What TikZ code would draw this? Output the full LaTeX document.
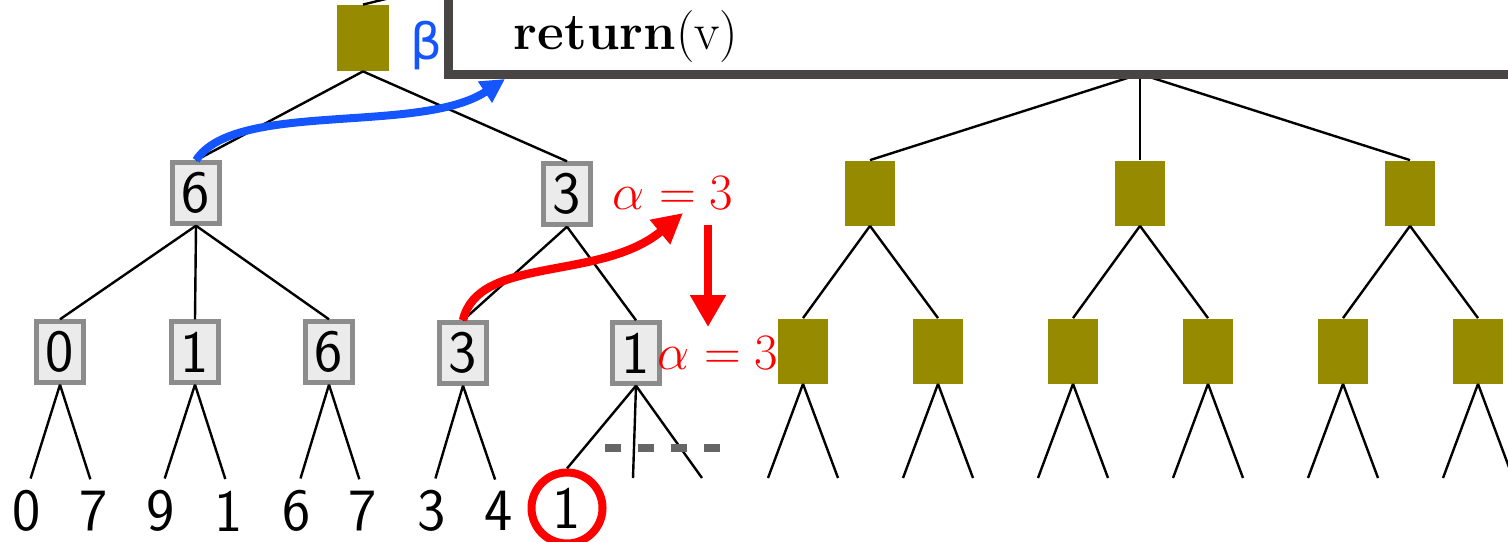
\RequirePackage{fix-cm}
\documentclass[tikz,border=0pt]{standalone}
\usepackage{fontspec}
\newfontfamily\betafont{DejaVu Sans}
\usepackage{tikz}
\usetikzlibrary{arrows.meta}

\definecolor{olivebox}{RGB}{150,138,0}
\definecolor{retgray}{RGB}{74,69,69}
\definecolor{alphared}{RGB}{255,0,0}
\definecolor{betablue}{RGB}{20,85,255}

\begin{document}
\begin{tikzpicture}[
    x=0.5pt, y=-0.5pt,
    edge/.style={line width=1.2pt},
    valbox/.style={draw=black!45, fill=black!8, line width=2.2pt, minimum width=23.5pt, minimum height=30.5pt, inner sep=0pt, font=\fontsize{30}{36}\sffamily},
    hidbox/.style={fill=olivebox, minimum width=25pt, minimum height=32.5pt, inner sep=0pt},
    leaf/.style={inner sep=0pt, font=\fontsize{30}{36}\sffamily},
    toleaf/.style={edge, shorten >=6pt},
    alphalbl/.style={text=alphared, inner sep=0pt, font=\fontsize{25.5}{30}\selectfont},
    redarrow/.style={draw=alphared, line width=4.2pt, -{Triangle[length=15pt, width=15pt]}},
    bluearrow/.style={draw=betablue, line width=4pt, -{Triangle[length=12pt, width=12pt]}}
]
\useasboundingbox (0,0) rectangle (1508,541);
\clip (0,0) rectangle (1508,541);

% left tree
\node[hidbox, minimum width=26pt, minimum height=33pt] (root) at (363,38) {};
\coordinate (rootup) at (430,-12);
\node[valbox] (six) at (196,193) {6};
\node[valbox] (three) at (567,194) {3};
\node[valbox] (z0) at (60,352) {0};
\node[valbox] (o1) at (195,352) {1};
\node[valbox] (s6) at (329,352) {6};
\node[valbox] (t3) at (463,353) {3};
\node[valbox] (o1b) at (636,353) {1};

\node[leaf] (a0) at (27,511) {0};
\node[leaf] (a1) at (94,511) {7};
\node[leaf] (a2) at (161,511) {9};
\node[leaf] (a3) at (229,511) {1};
\node[leaf] (a4) at (297,511) {6};
\node[leaf] (a5) at (363,511) {7};
\node[leaf] (a6) at (432,511) {3};
\node[leaf] (a7) at (499,511) {4};
\node[leaf, circle, draw=alphared, line width=4pt, minimum size=35.5pt] (a8) at (567,508) {1};
\coordinate (m1) at (633,478);
\coordinate (m2) at (702,478);

\draw[edge] (root.north) -- (rootup);
\draw[edge] (root.south) -- (six.north);
\draw[edge] (root.south) -- (three.north);
\draw[edge] (six.south) -- (z0.north);
\draw[edge] (six.south) -- (o1.north);
\draw[edge] (six.south) -- (s6.north);
\draw[edge] (three.south) -- (t3.north);
\draw[edge] (three.south) -- (o1b.north);
\draw[toleaf] (z0.south) -- (a0.north);
\draw[toleaf] (z0.south) -- (a1.north);
\draw[toleaf] (o1.south) -- (a2.north);
\draw[toleaf] (o1.south) -- (a3.north);
\draw[toleaf] (s6.south) -- (a4.north);
\draw[toleaf] (s6.south) -- (a5.north);
\draw[toleaf] (t3.south) -- (a6.north);
\draw[toleaf] (t3.south) -- (a7.north);
\draw[edge] (o1b.south) -- (a8.north);
\draw[edge] (o1b.south) -- (m1);
\draw[edge] (o1b.south) -- (m2);
\draw[draw=black!60, line width=4pt, dash pattern=on 8pt off 8.5pt] (605,448) -- (722,448);

% right tree
\coordinate (apex) at (1140,74);
\node[hidbox] (h1) at (870,193) {};
\node[hidbox] (h2) at (1140,193) {};
\node[hidbox] (h3) at (1410,193) {};
\node[hidbox] (g1) at (803,351) {};
\node[hidbox] (g2) at (938,351) {};
\node[hidbox] (g3) at (1073,351) {};
\node[hidbox] (g4) at (1208,351) {};
\node[hidbox] (g5) at (1343,351) {};
\node[hidbox] (g6) at (1478,351) {};
\coordinate (g1l) at (768,478); \coordinate (g1r) at (838,478);
\coordinate (g2l) at (903,478); \coordinate (g2r) at (973,478);
\coordinate (g3l) at (1038,478); \coordinate (g3r) at (1108,478);
\coordinate (g4l) at (1173,478); \coordinate (g4r) at (1243,478);
\coordinate (g5l) at (1308,478); \coordinate (g5r) at (1378,478);
\coordinate (g6l) at (1443,478); \coordinate (g6r) at (1513,478);

\draw[edge] (apex) -- (h1.north);
\draw[edge] (apex) -- (h2.north);
\draw[edge] (apex) -- (h3.north);
\draw[edge] (h1.south) -- (g1.north);
\draw[edge] (h1.south) -- (g2.north);
\draw[edge] (h2.south) -- (g3.north);
\draw[edge] (h2.south) -- (g4.north);
\draw[edge] (h3.south) -- (g5.north);
\draw[edge] (h3.south) -- (g6.north);
\draw[edge] (g1.south) -- (g1l); \draw[edge] (g1.south) -- (g1r);
\draw[edge] (g2.south) -- (g2l); \draw[edge] (g2.south) -- (g2r);
\draw[edge] (g3.south) -- (g3l); \draw[edge] (g3.south) -- (g3r);
\draw[edge] (g4.south) -- (g4l); \draw[edge] (g4.south) -- (g4r);
\draw[edge] (g5.south) -- (g5l); \draw[edge] (g5.south) -- (g5r);
\draw[edge] (g6.south) -- (g6l); \draw[edge] (g6.south) -- (g6r);

% return box
\draw[draw=retgray, fill=white, line width=4.5pt] (448,-40) rectangle (1600,74);
\node[inner sep=0pt, font=\fontsize{26}{30}\selectfont] (ret) at (626,37) {\textbf{return}(v)};
\coordinate (rettip) at (505,79);

% labels and arrows
\node[text=betablue, inner sep=0pt, font=\betafont\fontsize{25}{30}\selectfont] (beta) at (426,46) {β};
\node[alphalbl] (alpha1) at (673,193) {$\alpha = 3$};
\node[alphalbl] (alpha2) at (718,353) {$\alpha = 3$};
\coordinate (alphatip) at (683,213);
\coordinate (downtop) at (708,225);
\coordinate (downtip) at (708,327);

\draw[bluearrow] (six.north) .. controls (235,100) and (420,135) .. (rettip);
\draw[redarrow] (t3.north) .. controls (478,255) and (600,282) .. (alphatip);
\draw[draw=alphared, line width=4.2pt, -{Triangle[length=16pt, width=17pt]}] (downtop) -- (downtip);
\end{tikzpicture}
\end{document}
